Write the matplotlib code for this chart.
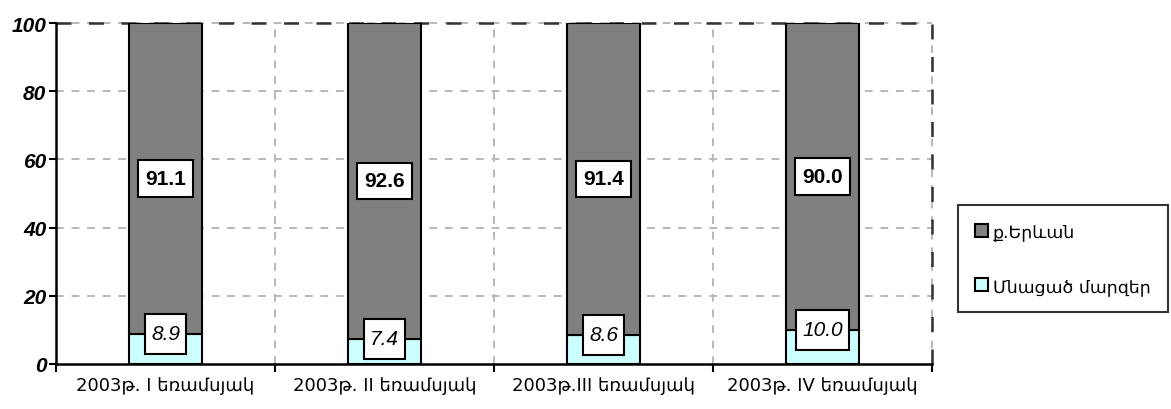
import numpy as np
import matplotlib
matplotlib.use('Agg')
import matplotlib.pyplot as plt
from matplotlib.patches import Patch
from matplotlib.path import Path

# Data
categories = ['2003թ. I եռամսյակ', '2003թ. II եռամսյակ',
              '2003թ.III եռամսյակ', '2003թ. IV եռամսյակ']
regions = [8.9, 7.4, 8.6, 10.0]      # Մնացած մարզեր
yerevan = [91.1, 92.6, 91.4, 90.0]   # ք.Երևան
series_names = ['ք.Երևան', 'Մնացած մարզեր']


def label_box(px, py):
    # square box with separate x / y padding (fractions of the font size)
    def style(x0, y0, width, height, mutation_size):
        dx = px * mutation_size
        dy = py * mutation_size
        x0, y0 = x0 - dx, y0 - dy
        x1, y1 = x0 + width + 2 * dx, y0 + height + 2 * dy
        return Path([(x0, y0), (x1, y0), (x1, y1), (x0, y1), (x0, y0)], closed=True)
    return style


fig = plt.figure(figsize=(11.71, 4.10), dpi=100)
ax = fig.add_axes([56 / 1171, 45 / 410, 876 / 1171, 341 / 410])

x = np.arange(len(categories))
width = 0.33
ax.bar(x, regions, width, color='#CCFFFF', edgecolor='black', linewidth=1.5, zorder=3)
ax.bar(x, yerevan, width, bottom=regions, color='#808080', edgecolor='black',
       linewidth=1.5, zorder=3)

# value labels in white boxes
for i in range(len(categories)):
    ax.text(x[i], regions[i] + yerevan[i] / 2, f'{yerevan[i]:.1f}', ha='center', va='center',
            fontsize=15, fontweight='bold', family='Liberation Sans', zorder=5,
            bbox=dict(boxstyle=label_box(0.33, 0.42), fc='white', ec='black', lw=1.5))
    ax.text(x[i], regions[i], f'{regions[i]:.1f}', ha='center', va='center',
            fontsize=15, fontstyle='italic', family='Liberation Sans', zorder=5,
            bbox=dict(boxstyle=label_box(0.28, 0.5), fc='white', ec='black', lw=1.5))

ax.set_xlim(-0.5, len(categories) - 0.5)
ax.set_ylim(0, 100)
ax.set_yticks(range(0, 101, 20))
ax.set_yticklabels([str(v) for v in range(0, 101, 20)], fontsize=15,
                   fontweight='bold', fontstyle='italic', family='Liberation Sans')

# category labels between boundary ticks
ax.set_xticks(np.arange(len(categories) + 1) - 0.5)
ax.set_xticklabels([])
ax.set_xticks(x, minor=True)
ax.set_xticklabels(categories, minor=True, fontsize=13, family='DejaVu Sans')
ax.tick_params(axis='x', which='minor', length=0, pad=9)
ax.tick_params(axis='x', which='major', length=6, width=1.5, direction='out')
ax.tick_params(axis='y', length=5, width=1.5, direction='out', pad=2)

# grid
for v in range(20, 101, 20):
    ax.axhline(v, color='#b8b8b8', linestyle=(0, (4, 4)), linewidth=1.4, zorder=1, clip_on=False)
for b in np.arange(1, len(categories) + 1) - 0.5:
    ax.axvline(b, color='#b8b8b8', linestyle=(0, (4, 4)), linewidth=1.4, zorder=1, clip_on=False)

ax.spines['left'].set_linewidth(1.8)
ax.spines['bottom'].set_linewidth(1.8)
ax.spines['top'].set_visible(False)
ax.spines['right'].set_visible(False)
ax.axhline(100, color='#333333', linestyle=(0, (6, 7)), linewidth=1.8, zorder=2, clip_on=False)
ax.axvline(len(categories) - 0.5, color='#333333', linestyle=(0, (6, 7)), linewidth=1.8,
           zorder=2, clip_on=False)

handles = [Patch(facecolor='#808080', edgecolor='black', label=series_names[0]),
           Patch(facecolor='#CCFFFF', edgecolor='black', label=series_names[1])]
leg = fig.legend(handles=handles, loc='upper left', bbox_to_anchor=(958 / 1171, 1 - 206 / 410),
                 frameon=True, fancybox=False, edgecolor='black',
                 handlelength=0.75, handleheight=0.75, handletextpad=0.25,
                 labelspacing=2.1, borderpad=1.0, borderaxespad=0,
                 prop={'family': 'DejaVu Sans', 'size': 12.5})
leg.get_frame().set_linewidth(1.5)
for h in leg.legend_handles:
    h.set_linewidth(1.5)

fig.savefig('out.png', dpi=100)
